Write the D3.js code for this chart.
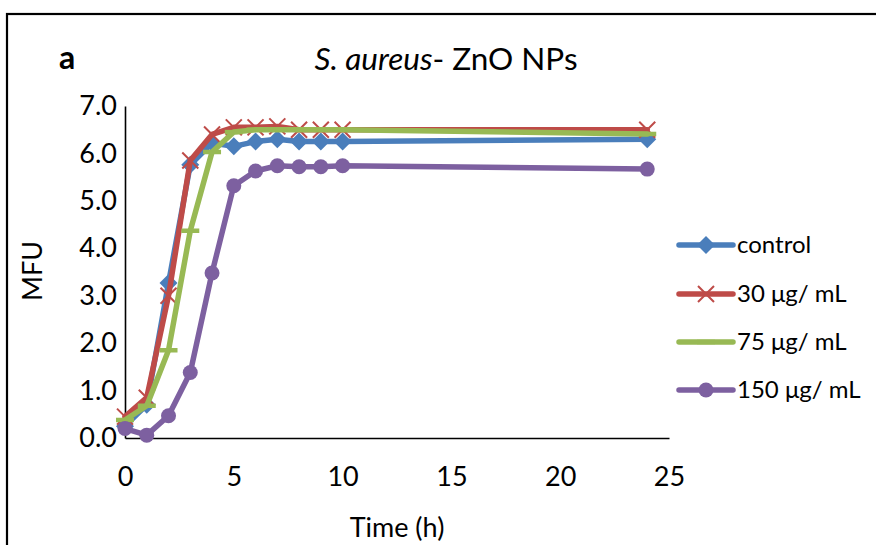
<!DOCTYPE html>
<html>
<head>
<meta charset="utf-8">
<script src="https://cdn.jsdelivr.net/npm/d3@7"></script>
<style>
  html, body { margin: 0; padding: 0; background: #fff; }
  svg text { font-family: Lato, "Open Sans", sans-serif; fill: #000; }
</style>
</head>
<body>
<svg id="chart" width="876" height="545"></svg>
<script>
// Sampling times (h)
const times = [0, 1, 2, 3, 4, 5, 6, 7, 8, 9, 10, 24];

// MFU readings per treatment
const control = [0.25, 0.7, 3.27, 5.76, 6.22, 6.15, 6.25, 6.3, 6.25, 6.25, 6.25, 6.3];
const zno30   = [0.45, 0.85, 3.0, 5.85, 6.4, 6.55, 6.55, 6.57, 6.5, 6.5, 6.5, 6.5];
const zno75   = [0.38, 0.68, 1.85, 4.37, 6.03, 6.45, 6.5, 6.5, 6.5, 6.5, 6.5, 6.41];
const zno150  = [0.2, 0.06, 0.47, 1.38, 3.48, 5.32, 5.63, 5.74, 5.72, 5.72, 5.74, 5.67];

const seriesNames  = ["control", "30 μg/ mL", "75 μg/ mL", "150 μg/ mL"];
const seriesColors = ["#4A7EBB", "#BE4B48", "#98B954", "#7D60A0"];
const seriesMarks  = ["diamond", "cross", "dash", "circle"];

const xTicks = [0, 5, 10, 15, 20, 25];
const yTicks = [0, 1, 2, 3, 4, 5, 6, 7];

const series = [control, zno30, zno75, zno150].map((vals, i) => ({
  name: seriesNames[i], color: seriesColors[i], mark: seriesMarks[i],
  points: times.map((t, j) => ({ t, v: vals[j] }))
}));

const svg = d3.select("#chart");

// outer frame
svg.append("rect")
  .attr("x", 7).attr("y", 14).attr("width", 880).attr("height", 560)
  .attr("fill", "none").attr("stroke", "#000").attr("stroke-width", 2.2);

const x = d3.scaleLinear().domain([0, 25]).range([125, 669]);
const y = d3.scaleLinear().domain([0, 7]).range([438, 106]);

// axes
const xAxis = svg.append("g").attr("transform", `translate(0,${y(0)})`)
  .call(d3.axisBottom(x).tickValues(xTicks).tickSize(0).tickPadding(29).tickFormat(d3.format("d")));
xAxis.select(".domain").attr("stroke", "#000").attr("stroke-width", 1.6);
xAxis.selectAll("text").attr("font-size", 27).style("font-family", "Lato, sans-serif");

const yAxis = svg.append("g").attr("transform", `translate(${x(0)},0)`)
  .call(d3.axisLeft(y).tickValues(yTicks).tickSize(0).tickPadding(8).tickFormat(d3.format(".1f")));
yAxis.select(".domain").attr("stroke", "#000").attr("stroke-width", 1.6);
yAxis.selectAll("text").attr("font-size", 27).style("font-family", "Lato, sans-serif");

// axis titles
svg.append("text").attr("x", 397).attr("y", 537).attr("text-anchor", "middle")
  .attr("font-size", 27).text("Time (h)");
svg.append("text").attr("transform", "translate(42,271) rotate(-90)")
  .attr("text-anchor", "middle").attr("font-size", 27).text("MFU");

// panel letter and title
svg.append("text").attr("x", 59).attr("y", 69).attr("font-size", 32)
  .attr("font-weight", "bold").text("a");
const title = svg.append("text").attr("x", 446).attr("y", 70)
  .attr("text-anchor", "middle").attr("font-size", 31.5);
title.append("tspan").attr("font-style", "italic").text("S. aureus");
title.append("tspan").text("- ZnO NPs");

// marker drawing
function drawMarker(g, mark, color) {
  if (mark === "diamond") {
    g.append("path").attr("d", "M0,-9L9,0L0,9L-9,0Z").attr("fill", color);
  } else if (mark === "circle") {
    g.append("circle").attr("r", 7.5).attr("fill", color);
  } else if (mark === "cross") {
    g.append("path").attr("d", "M-8,-8L8,8M-8,8L8,-8")
      .attr("stroke", color).attr("stroke-width", 2).attr("fill", "none");
  } else if (mark === "dash") {
    g.append("path").attr("d", "M-9,0L9,0")
      .attr("stroke", color).attr("stroke-width", 4.5).attr("fill", "none");
  }
}

const line = d3.line().x(d => x(d.t)).y(d => y(d.v));

series.forEach(s => {
  const g = svg.append("g");
  g.append("path").datum(s.points).attr("d", line)
    .attr("fill", "none").attr("stroke", s.color).attr("stroke-width", 5.5)
    .attr("stroke-linejoin", "round").attr("stroke-linecap", "round");
  s.points.forEach(p => {
    const m = g.append("g").attr("transform", `translate(${x(p.t)},${y(p.v)})`);
    drawMarker(m, s.mark, s.color);
  });
});

// legend
const legendY = [245, 294, 342, 390];
series.forEach((s, i) => {
  const g = svg.append("g").attr("transform", `translate(679,${legendY[i]})`);
  g.append("line").attr("x1", 0).attr("x2", 54).attr("y1", 0).attr("y2", 0)
    .attr("stroke", s.color).attr("stroke-width", 5.5).attr("stroke-linecap", "round");
  const m = g.append("g").attr("transform", "translate(27,0)");
  drawMarker(m, s.mark, s.color);
  g.append("text").attr("x", 58).attr("y", 0).attr("dy", "0.35em")
    .attr("font-size", 24).text(s.name);
});
</script>
</body>
</html>
